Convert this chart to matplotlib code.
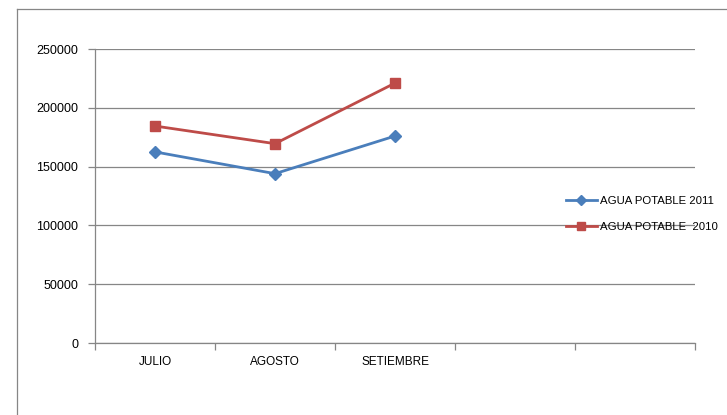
import matplotlib
matplotlib.use('Agg')
import matplotlib.pyplot as plt
import numpy as np
from matplotlib.lines import Line2D

plt.rcParams['font.family'] = ['Liberation Sans', 'DejaVu Sans']

# datos
meses = ['JULIO', 'AGOSTO', 'SETIEMBRE', '', '']
agua_2011 = [162500, 144000, 176000]
agua_2010 = [184500, 169500, 221000]
etiquetas = ['AGUA POTABLE 2011', 'AGUA POTABLE  2010']

W, H = 727, 415
fig = plt.figure(figsize=(W / 100, H / 100), dpi=100)
ax = fig.add_axes([95 / W, (H - 343) / H, 600 / W, 294 / H])

gris = '#868686'
azul = '#4A7EBB'
rojo = '#BE4B48'

x = np.arange(len(agua_2011)) + 0.5
l1, = ax.plot(x, agua_2011, color=azul, linewidth=2.0, marker='D', markersize=6,
              markerfacecolor=azul, markeredgecolor=azul, label=etiquetas[0])
l2, = ax.plot(x, agua_2010, color=rojo, linewidth=2.0, marker='s', markersize=7,
              markerfacecolor=rojo, markeredgecolor=rojo, label=etiquetas[1])

ax.set_xlim(0, len(meses))
ax.set_ylim(0, 250000)
ax.set_yticks(np.arange(0, 250001, 50000))
ax.yaxis.grid(True, color=gris, linewidth=0.9)
ax.set_axisbelow(True)

# ticks de categorías: marcas en los bordes, etiquetas al centro
ax.set_xticks(np.arange(len(meses) + 1))
ax.set_xticklabels([])
ax.set_xticks(np.arange(len(meses)) + 0.5, minor=True)
ax.set_xticklabels(meses, minor=True, fontsize=8.5)
ax.tick_params(axis='x', which='minor', length=0, pad=9)
ax.tick_params(axis='x', which='major', length=5, color=gris, width=0.9)
ax.tick_params(axis='y', length=5, color=gris, width=0.9, labelsize=9, pad=7)

for s in ['top', 'right']:
    ax.spines[s].set_visible(False)
for s in ['left', 'bottom']:
    ax.spines[s].set_color(gris)
    ax.spines[s].set_linewidth(0.9)

fig.legend(handles=[l1, l2], loc='upper left', bbox_to_anchor=(566 / W, 1 - 196 / H),
           frameon=False, fontsize=8.2, handlelength=2.7, handletextpad=0.3,
           labelspacing=1.4, borderpad=0, borderaxespad=0, markerscale=0.8)

# borde exterior del gráfico
fig.add_artist(Line2D([17 / W, 17 / W], [0, 1 - 9 / H], color=gris, linewidth=0.9))
fig.add_artist(Line2D([17 / W, 1], [1 - 9 / H, 1 - 9 / H], color=gris, linewidth=0.9))

fig.savefig('out.png', dpi=100)
